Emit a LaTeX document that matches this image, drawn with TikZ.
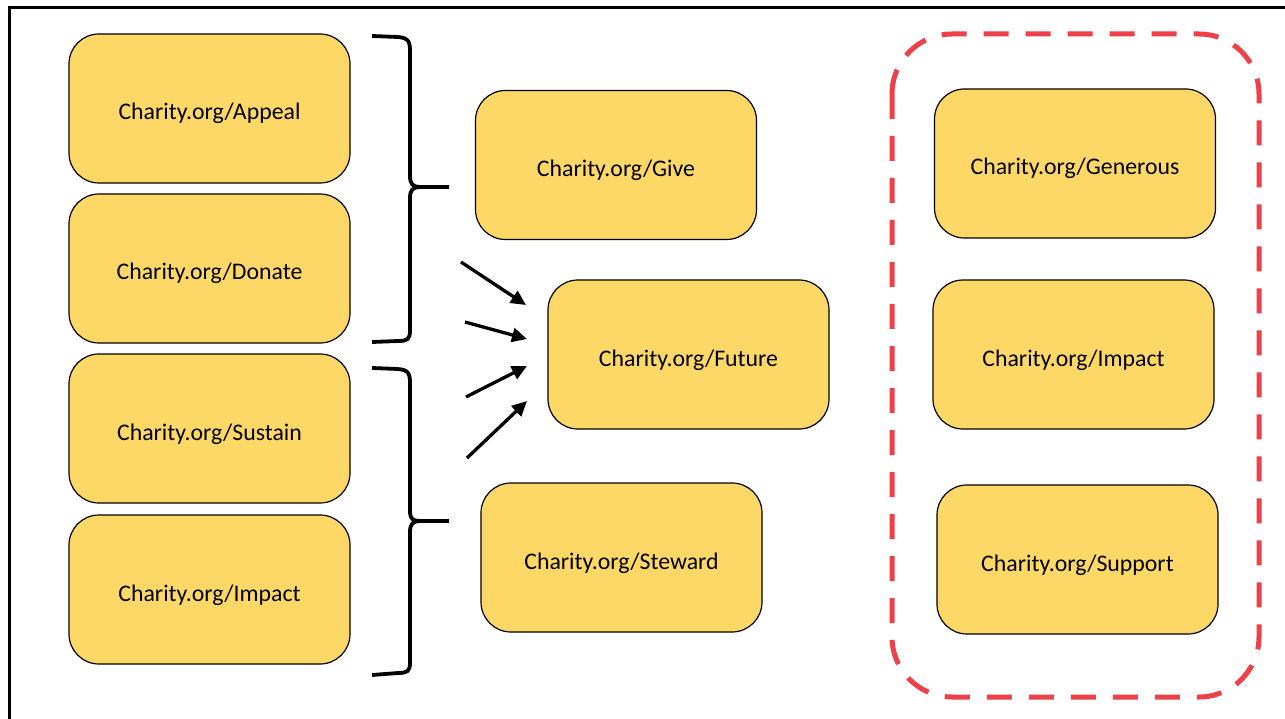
\documentclass[tikz,border=0pt]{standalone}
\usepackage{fontspec}
\setmainfont{Carlito}
\usetikzlibrary{arrows.meta}
\definecolor{boxyellow}{RGB}{253,216,102}
\definecolor{dashred}{RGB}{238,64,72}
\tikzset{
  cbox/.style={draw=black, line width=1.2pt, fill=boxyellow, rounded corners=30pt,
    minimum width=281pt, minimum height=149pt, inner sep=0pt,
    text height=23pt, text depth=0pt, font=\fontsize{23.8pt}{28pt}\selectfont},
  bracepath/.style={draw=black, line width=3.8pt},
  arr/.style={draw=black, line width=3.3pt, -{Triangle[length=15pt,width=14pt]}},
}
\begin{document}
\begin{tikzpicture}[x=1pt,y=-1pt]
\clip (0,0) rectangle (1285,719);
\fill[white] (0,0) rectangle (1285,719);
\draw[line width=3pt] (9.5,8) rectangle (1310,740);

% left column
\node[cbox] (appeal) at (209.5,108.5) {Charity.org/Appeal};
\node[cbox] (donate) at (209.5,268.5) {Charity.org/Donate};
\node[cbox] (sustain) at (209.5,428.5) {Charity.org/Sustain};
\node[cbox] (impactl) at (209.5,589.5) {Charity.org/Impact};

% middle column
\node[cbox] (give) at (616,165) {Charity.org/Give};
\node[cbox] (future) at (688.5,354.5) {Charity.org/Future};
\node[cbox] (steward) at (621.5,557.5) {Charity.org/Steward};

% right column
\draw[dashred, line width=5pt, dash pattern=on 25pt off 17pt, rounded corners=60pt]
  (892,34) rectangle (1259,697);
\node[cbox] (generous) at (1075,163.5) {Charity.org/Generous};
\node[cbox] (impactr) at (1073.5,354.5) {Charity.org/Impact};
\node[cbox] (support) at (1077.5,559.5) {Charity.org/Support};

% braces
\draw[bracepath] (372,36) -- (398,37) .. controls (409,38) and (410,42) .. (410,52)
  -- (410,176) .. controls (410,184) and (413,187) .. (420,187) -- (449,187)
  (420,187) .. controls (413,187) and (410,190) .. (410,198)
  -- (410,330) .. controls (410,339) and (408,341) .. (398,341) -- (372,342);
\draw[bracepath] (372,368) -- (398,369) .. controls (409,370) and (410,374) .. (410,384)
  -- (410,511) .. controls (410,519) and (413,521) .. (420,521) -- (449,521)
  (420,521) .. controls (413,521) and (410,524) .. (410,532)
  -- (410,662) .. controls (410,671) and (408,673) .. (398,673) -- (372,675);

% arrows
\coordinate (a1s) at (461,262); \coordinate (a1e) at (526,305);
\coordinate (a2s) at (465,322); \coordinate (a2e) at (527,339);
\coordinate (a3s) at (466,397); \coordinate (a3e) at (527,366);
\coordinate (a4s) at (467,458); \coordinate (a4e) at (527,401);
\draw[arr] (a1s) -- (a1e);
\draw[arr] (a2s) -- (a2e);
\draw[arr] (a3s) -- (a3e);
\draw[arr] (a4s) -- (a4e);
\end{tikzpicture}
\end{document}
